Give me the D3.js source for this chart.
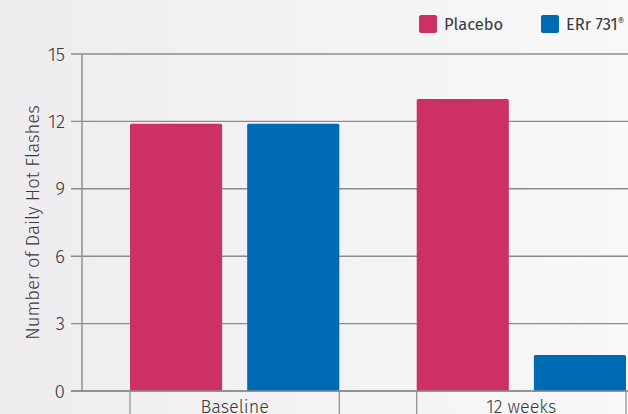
<!DOCTYPE html>
<html>
<head>
<meta charset="utf-8">
<script src="https://cdn.jsdelivr.net/npm/d3@7"></script>
<style>
  html, body { margin: 0; padding: 0; }
  body { width: 628px; height: 414px; overflow: hidden; }
</style>
</head>
<body>
<div id="chart"></div>
<script>
'use strict'

// data
const groups = ["Baseline", "12 weeks"];
const series = ["Placebo", "ERr 731"];
const placeboValues = [11.9, 13.0];
const errValues = [11.9, 1.6];
const yTicks = [0, 3, 6, 9, 12, 15];

const data = groups.map((g, i) => ({
    group: g,
    values: [
        { key: "Placebo", value: placeboValues[i] },
        { key: "ERr 731", value: errValues[i] }
    ]
}));

////////////////////////////////////
//////////// svg setup /////////////
////////////////////////////////////

const svgWidth = 628
const svgHeight = 414
const font_family = "'Fira Sans', 'Open Sans', 'Noto Sans', sans-serif"
const textColor = "#3a3a3a"
const gridColor = "#8c8c8c"

const svg = d3.select("#chart")
    .append("svg")
    .attr("width", svgWidth)
    .attr("height", svgHeight)

// background
const defs = svg.append("defs")
const grad = defs.append("linearGradient")
    .attr("id", "bg")
    .attr("x1", "0%").attr("x2", "100%")
grad.append("stop").attr("offset", "0%").attr("stop-color", "#eeecef")
grad.append("stop").attr("offset", "100%").attr("stop-color", "#f8f8f9")

svg.append("rect")
    .attr("width", svgWidth)
    .attr("height", svgHeight)
    .attr("fill", "url(#bg)")

////////////////////////////////////
//////////// Scales ////////////////
////////////////////////////////////

const x0 = d3.scaleBand()
    .domain(groups)
    .range([130, 626])
    .paddingInner(0.27)
    .paddingOuter(0)

const x1 = d3.scaleBand()
    .domain(series)
    .range([0, x0.bandwidth()])
    .paddingInner(0.214)

const y = d3.scaleLinear()
    .domain([0, 15])
    .range([391, 54])

const color = d3.scaleOrdinal()
    .domain(series)
    .range(["#cc3064", "#0069b4"])

////////////////////////////////////
//////////// grid & axis ///////////
////////////////////////////////////

svg.append("g")
    .selectAll("line")
    .data(yTicks)
    .join("line")
    .attr("x1", 71)
    .attr("x2", svgWidth)
    .attr("y1", d => y(d))
    .attr("y2", d => y(d))
    .attr("stroke", gridColor)
    .attr("stroke-width", 1.4)

svg.append("g")
    .selectAll("text")
    .data(yTicks)
    .join("text")
    .attr("x", 65)
    .attr("y", d => y(d))
    .attr("dy", "0.35em")
    .attr("text-anchor", "end")
    .attr("fill", textColor)
    .style("font-family", font_family)
    .style("font-size", "19px")
    .style("font-weight", 300)
    .text(d => d)

svg.append("line")
    .attr("x1", 82).attr("x2", 82)
    .attr("y1", y(15)).attr("y2", y(0))
    .attr("stroke", gridColor)
    .attr("stroke-width", 1.4)

svg.append("text")
    .attr("transform", `translate(39,${(y(0) + y(15)) / 2}) rotate(-90)`)
    .attr("text-anchor", "middle")
    .attr("fill", textColor)
    .style("font-family", font_family)
    .style("font-size", "18.5px")
    .style("font-weight", 300)
    .text("Number of Daily Hot Flashes")

////////////////////////////////////
//////////// bars //////////////////
////////////////////////////////////

const grp = svg.append("g")
    .selectAll("g")
    .data(data)
    .join("g")
    .attr("transform", d => `translate(${x0(d.group)},0)`)

grp.selectAll("rect")
    .data(d => d.values)
    .join("rect")
    .attr("x", d => x1(d.key))
    .attr("width", x1.bandwidth())
    .attr("y", d => y(d.value))
    .attr("height", d => y(0) - y(d.value))
    .attr("rx", 1.5)
    .attr("fill", d => color(d.key))

// zero line over bar bottoms
svg.append("line")
    .attr("x1", 71).attr("x2", svgWidth)
    .attr("y1", y(0)).attr("y2", y(0))
    .attr("stroke", gridColor)
    .attr("stroke-width", 1.4)

// category dividers below axis
const edges = []
groups.forEach(g => { edges.push(x0(g)); edges.push(x0(g) + x0.bandwidth()) })
svg.append("g")
    .selectAll("line")
    .data(edges)
    .join("line")
    .attr("x1", d => d).attr("x2", d => d)
    .attr("y1", y(0)).attr("y2", svgHeight)
    .attr("stroke", gridColor)
    .attr("stroke-width", 1.2)

svg.append("g")
    .selectAll("text")
    .data(groups)
    .join("text")
    .attr("x", d => x0(d) + x0.bandwidth() / 2)
    .attr("y", 413)
    .attr("text-anchor", "middle")
    .attr("fill", textColor)
    .style("font-family", font_family)
    .style("font-size", "18px")
    .style("font-weight", 300)
    .text(d => d)

////////////////////////////////////
//////////// legend ////////////////
////////////////////////////////////

const legendX = [419, 541]
const legend = svg.append("g")
    .selectAll("g")
    .data(series)
    .join("g")
    .attr("transform", (d, i) => `translate(${legendX[i]},15)`)

legend.append("rect")
    .attr("width", 18)
    .attr("height", 18)
    .attr("rx", 2)
    .attr("fill", d => color(d))

const ltext = legend.append("text")
    .attr("x", 25)
    .attr("y", 9)
    .attr("dy", "0.35em")
    .attr("fill", textColor)
    .style("font-family", font_family)
    .style("font-size", "16.5px")
    .text(d => d)

ltext.filter(d => d === "ERr 731")
    .append("tspan")
    .attr("dy", "-0.5em")
    .style("font-size", "10px")
    .text("®")
</script>
</body>
</html>
